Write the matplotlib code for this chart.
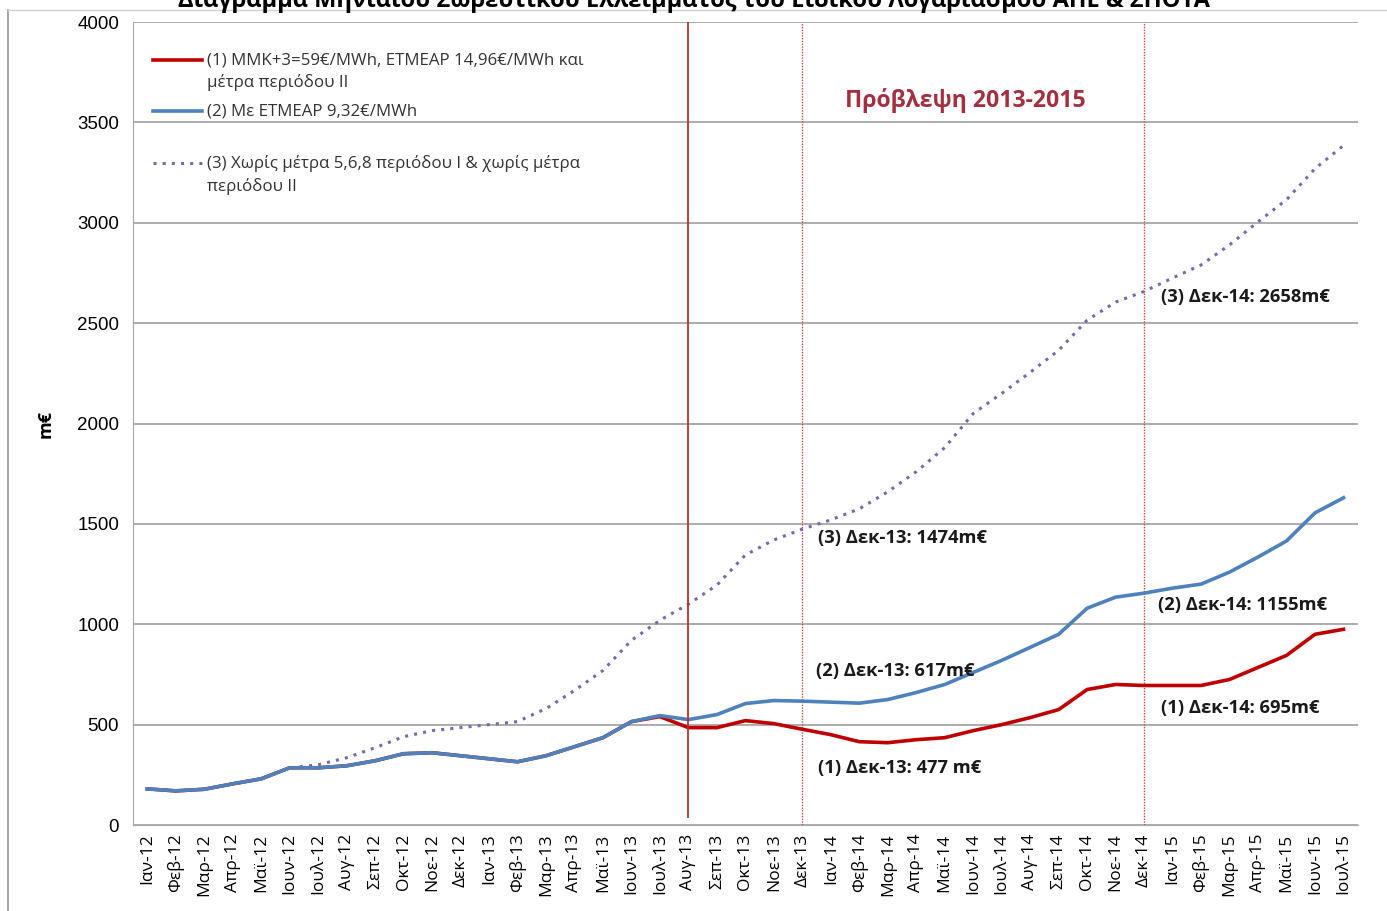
import matplotlib.pyplot as plt
from matplotlib.lines import Line2D

plt.rcParams['font.family'] = ['Open Sans', 'DejaVu Sans']

months = ["Ιαν-12", "Φεβ-12", "Μαρ-12", "Απρ-12", "Μαϊ-12", "Ιουν-12", "Ιουλ-12", "Αυγ-12",
          "Σεπ-12", "Οκτ-12", "Νοε-12", "Δεκ-12", "Ιαν-13", "Φεβ-13", "Μαρ-13", "Απρ-13",
          "Μαϊ-13", "Ιουν-13", "Ιουλ-13", "Αυγ-13", "Σεπ-13", "Οκτ-13", "Νοε-13", "Δεκ-13",
          "Ιαν-14", "Φεβ-14", "Μαρ-14", "Απρ-14", "Μαϊ-14", "Ιουν-14", "Ιουλ-14", "Αυγ-14",
          "Σεπ-14", "Οκτ-14", "Νοε-14", "Δεκ-14", "Ιαν-15", "Φεβ-15", "Μαρ-15", "Απρ-15",
          "Μαϊ-15", "Ιουν-15", "Ιουλ-15"]

# (1) ΜΜΚ+3=59€/MWh ...
s1 = [180, 170, 178, 205, 230, 285, 285, 295, 320, 355, 360, 345, 330, 315, 345, 390,
      435, 515, 540, 485, 485, 520, 505, 477, 450, 415, 410, 425, 435, 470, 500, 535,
      575, 675, 700, 695, 695, 695, 725, 785, 845, 950, 975]
# (2) Με ΕΤΜΕΑΡ 9,32€/MWh
s2 = [180, 170, 178, 205, 230, 285, 285, 295, 320, 355, 360, 345, 330, 315, 345, 390,
      435, 515, 545, 525, 550, 605, 620, 617, 612, 607, 625, 660, 700, 760, 820, 885,
      950, 1080, 1135, 1155, 1180, 1200, 1260, 1335, 1415, 1555, 1630]
# (3) Χωρίς μέτρα ...
s3 = [180, 170, 178, 205, 230, 285, 300, 335, 385, 440, 470, 485, 500, 515, 580, 670,
      770, 920, 1020, 1100, 1195, 1345, 1420, 1474, 1520, 1575, 1660, 1760, 1880, 2050, 2150, 2255,
      2365, 2515, 2605, 2658, 2725, 2790, 2890, 3005, 3115, 3270, 3385]

labels = ["(1) ΜΜΚ+3=59€/MWh, ΕΤΜΕΑΡ 14,96€/MWh και\nμέτρα περιόδου ΙΙ",
          "(2) Με ΕΤΜΕΑΡ 9,32€/MWh",
          "(3) Χωρίς μέτρα 5,6,8 περιόδου Ι & χωρίς μέτρα\nπεριόδου ΙΙ"]

red = "#C00000"
blue = "#4F81BD"
purple = "#7B68A8"

fig = plt.figure(figsize=(13.87, 9.11), dpi=100)
ax = fig.add_axes([0.0959, 0.0944, 0.883, 0.8814])

x = list(range(len(months)))
ax.plot(x, s3, color=purple, lw=2.2, linestyle=(0, (1, 2.0)), zorder=3)
ax.plot(x, s1, color=red, lw=2.6, zorder=4)
ax.plot(x, s2, color=blue, lw=2.6, zorder=5)

ax.vlines(19, 35, 4000, color="#B83030", lw=1.3, zorder=6)
ax.axvline(23, color="#C84848", lw=1.0, linestyle=(0, (1, 1)), zorder=2)
ax.axvline(35, color="#C84848", lw=1.0, linestyle=(0, (1, 1)), zorder=2)

ax.set_xlim(-0.5, 42.5)
ax.set_ylim(0, 4000)
ax.set_yticks(range(0, 4001, 500))
ax.set_xticks(x)
ax.set_xticklabels(months, rotation=90, fontsize=12.5)
ax.tick_params(axis="y", labelsize=13.5, length=0, pad=10)
ax.tick_params(axis="x", length=0, pad=6)
for t in ax.get_yticklabels():
    t.set_family(["Liberation Sans", "DejaVu Sans"])
ax.grid(axis="y", color="#A6A6A6", lw=1.3)
ax.set_axisbelow(True)
for side in ["top", "right"]:
    ax.spines[side].set_visible(False)
ax.spines["left"].set_color("#A6A6A6")
ax.spines["bottom"].set_color("#A6A6A6")
ax.set_ylabel("m€", fontsize=13, fontweight="bold", labelpad=16)

# legend drawn by hand
legend_rows = [(0.9527, 0.9377, labels[0], red, "-"),
               (0.889, 0.889, labels[1], blue, "-"),
               (0.8244, 0.8095, labels[2], purple, (0, (1, 2.0)))]
for ly, ty, txt, c, ls in legend_rows:
    ax.add_line(Line2D([0.0162, 0.0567], [ly, ly], transform=ax.transAxes, color=c,
                       lw=2.6 if ls == "-" else 2.2, linestyle=ls))
    ax.text(0.0603, ty, txt, transform=ax.transAxes, fontsize=12.2, va="center",
            linespacing=1.45, color="#333333")

ax.text(24.49, 3607, "Πρόβλεψη 2013-2015", fontsize=16.6, fontweight="bold",
        color="#A33040", va="center")
notes = [(23.54, 1430, "(3) Δεκ-13: 1474m€"),
         (23.47, 767, "(2) Δεκ-13: 617m€"),
         (23.54, 284, "(1) Δεκ-13: 477 m€"),
         (35.61, 2630, "(3) Δεκ-14: 2658m€"),
         (35.47, 1096, "(2) Δεκ-14: 1155m€"),
         (35.61, 583, "(1) Δεκ-14: 695m€")]
for nx, ny, txt in notes:
    ax.text(nx, ny, txt, fontsize=13.2, fontweight="bold", va="center", color="#1a1a1a", zorder=7)

fig.text(0.5, 0.9995, "Διάγραμμα Μηνιαίου Σωρευτικού Ελλείμματος του Ειδικού Λογαριασμού ΑΠΕ & ΣΗΘΥΑ",
         ha="center", va="center", fontsize=17, fontweight="bold")
fig.add_artist(Line2D([0.006, 0.006], [0, 0.989], transform=fig.transFigure, color="#9A9A9A", lw=1.2))
fig.add_artist(Line2D([0.006, 1], [0.989, 0.989], transform=fig.transFigure, color="#D0D0D0", lw=1.0))

fig.savefig("out.png", dpi=100)
